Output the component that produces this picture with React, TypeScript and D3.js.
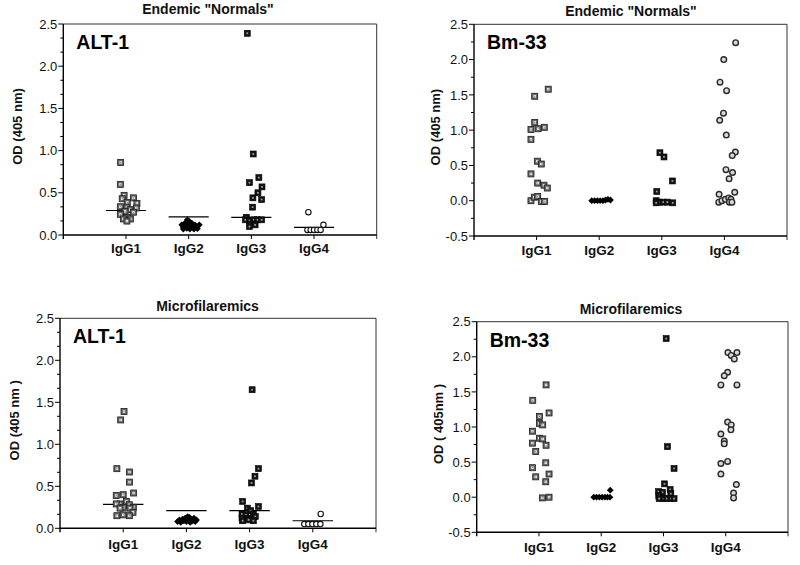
import React from "react";
import * as d3 from "d3";

// ---------- data ----------
const categories = ["IgG1", "IgG2", "IgG3", "IgG4"];

// each point: [OD value, horizontal jitter in category units]
type Pt = [number, number];

// ALT-1, Endemic "Normals"
const altNormIgG1: Pt[] = [
  [0.86, -0.085], [0.6, -0.09], [0.47, -0.03], [0.44, 0.12], [0.43, -0.06], [0.385, 0.02],
  [0.375, 0.175], [0.335, -0.09], [0.33, 0.015], [0.32, 0.165], [0.3, 0.065], [0.28, -0.015],
  [0.27, 0.12], [0.245, -0.09], [0.21, 0.025], [0.19, -0.04], [0.19, 0.07], [0.165, 0.015],
];
const altNormIgG2: Pt[] = [
  [0.12, -0.11], [0.09, -0.085], [0.14, -0.06], [0.18, -0.02], [0.16, 0.01], [0.11, 0.03],
  [0.09, 0.065], [0.12, 0.1], [0.1, 0.13], [0.12, 0.17], [0.08, -0.03], [0.07, 0.02],
  [0.07, 0.085], [0.075, 0.14], [0.07, -0.085], [0.12, -0.005], [0.14, 0.05], [0.1, -0.045],
];
const altNormIgG3: Pt[] = [
  [2.39, -0.065], [0.96, 0.03], [0.68, 0.12], [0.62, -0.03], [0.57, 0.17], [0.5, 0.105],
  [0.44, 0.025], [0.42, 0.165], [0.33, 0.02], [0.21, -0.08], [0.18, -0.095], [0.17, -0.03],
  [0.18, 0.04], [0.18, 0.1], [0.18, 0.165], [0.13, -0.02], [0.12, 0.06], [0.1, -0.03],
];
const altNormIgG4: Pt[] = [
  [0.27, -0.09], [0.12, 0.15], [0.06, -0.105], [0.06, -0.053], [0.06, 0], [0.06, 0.053], [0.06, 0.105],
];
const altNormMedians = [0.29, 0.215, 0.21, 0.09];

// Bm-33, Endemic "Normals"
const bmNormIgG1: Pt[] = [
  [1.58, 0.186], [1.48, -0.03], [1.11, -0.03], [1.01, -0.09], [1.02, 0.024], [1.04, 0.123],
  [0.87, -0.09], [0.56, 0.012], [0.52, 0.075], [0.38, -0.09], [0.25, 0.017], [0.22, 0.118],
  [0.18, 0.171], [0.0, -0.09], [0.05, -0.037], [0.06, 0.017], [-0.01, 0.075], [-0.01, 0.129],
];
const bmNormIgG2: Pt[] = [
  [0.0, -0.12], [0.0, -0.075], [0.0, -0.03], [0.0, 0.015], [0.0, 0.06], [0.01, 0.1], [0.02, 0.14], [0.01, 0.18],
];
const bmNormIgG3: Pt[] = [
  [0.68, -0.03], [0.62, 0.035], [0.28, 0.17], [0.13, -0.08], [0.0, -0.09], [-0.02, -0.04],
  [-0.02, 0.025], [-0.02, 0.09], [-0.03, 0.175], [-0.03, -0.09],
];
const bmNormIgG4: Pt[] = [
  [2.24, 0.18], [2.0, -0.01], [1.68, -0.07], [1.56, 0.035], [1.24, -0.015], [1.14, -0.075],
  [0.93, 0.03], [0.69, 0.175], [0.64, 0.125], [0.44, 0.025], [0.4, 0.13], [0.31, 0.075],
  [0.09, -0.085], [0.12, 0.165], [-0.02, -0.09], [0.0, -0.04], [0.02, 0.015], [0.04, 0.07],
  [0.02, 0.105], [-0.02, 0.08], [-0.02, 0.12],
];

// ALT-1, Microfilaremics
const altMfIgG1: Pt[] = [
  [1.39, 0.013], [1.29, -0.04], [0.71, -0.1], [0.67, 0.1], [0.55, 0.1], [0.42, 0.165],
  [0.4, 0.0], [0.39, -0.11], [0.32, 0.05], [0.29, -0.05], [0.29, -0.11], [0.28, 0.097],
  [0.25, 0.0], [0.25, 0.16], [0.24, -0.05], [0.24, 0.107], [0.19, 0.155], [0.15, -0.1],
  [0.16, 0.0], [0.15, 0.097],
];
const altMfIgG2: Pt[] = [
  [0.08, -0.14], [0.1, -0.11], [0.07, -0.09], [0.11, -0.06], [0.09, -0.04], [0.12, -0.02],
  [0.08, 0.0], [0.14, 0.02], [0.1, 0.04], [0.13, 0.05], [0.07, 0.06], [0.11, 0.08],
  [0.09, 0.1], [0.12, 0.12], [0.08, 0.14], [0.1, 0.16],
];
const altMfIgG3: Pt[] = [
  [1.65, 0.04], [0.71, 0.14], [0.62, 0.085], [0.54, 0.03], [0.32, -0.11], [0.26, 0.14],
  [0.24, -0.035], [0.21, 0.017], [0.17, -0.12], [0.16, -0.057], [0.17, 0.06], [0.12, -0.12],
  [0.12, -0.035], [0.14, 0.09], [0.09, -0.11], [0.1, -0.015], [0.09, 0.06],
];
const altMfIgG4: Pt[] = [
  [0.17, 0.125], [0.05, -0.135], [0.05, -0.07], [0.05, -0.007], [0.05, 0.056], [0.05, 0.12],
];
const altMfMedians = [0.285, 0.21, 0.21, 0.09];

// Bm-33, Microfilaremics
const bmMfIgG1: Pt[] = [
  [1.6, 0.114], [1.38, -0.1], [1.2, 0.162], [1.15, 0.007], [1.05, 0.007], [1.03, 0.06],
  [0.94, -0.105], [0.84, 0.007], [0.83, 0.06], [0.77, -0.105], [0.74, 0.114], [0.65, -0.052],
  [0.49, 0.109], [0.42, -0.105], [0.33, 0.162], [0.29, -0.052], [0.22, 0.109], [-0.01, 0.055],
  [0.0, 0.162],
];
const bmMfIgG2: Pt[] = [
  [0.0, -0.12], [0.0, -0.075], [0.0, -0.03], [0.0, 0.015], [0.0, 0.06], [0.0, 0.1], [0.0, 0.14], [0.1, 0.145],
];
const bmMfIgG3: Pt[] = [
  [2.26, 0.043], [0.72, 0.064], [0.41, 0.17], [0.19, 0.016], [0.08, -0.08], [0.11, 0.107],
  [0.05, 0.118], [0.07, -0.016], [0.02, -0.075], [-0.02, 0.0], [-0.02, 0.054], [-0.02, 0.118],
  [-0.02, 0.17], [-0.02, -0.07],
];
const bmMfIgG4: Pt[] = [
  [2.06, 0.035], [2.06, 0.18], [2.02, 0.088], [1.97, 0.137], [1.78, 0.03], [1.73, -0.024],
  [1.6, -0.078], [1.6, 0.18], [1.07, 0.03], [1.03, 0.088], [0.96, 0.083], [0.9, -0.078],
  [0.8, -0.024], [0.76, -0.024], [0.48, -0.078], [0.51, 0.03], [0.33, -0.078], [0.18, 0.17],
  [0.06, 0.126], [-0.01, 0.126],
];

const altTicks = [0, 0.5, 1.0, 1.5, 2.0, 2.5];
const bmTicks = [-0.5, 0, 0.5, 1.0, 1.5, 2.0, 2.5];

// ---------- drawing ----------
const FONT = "'Liberation Sans', Arial, Helvetica, sans-serif";

type MarkerKind = "sqGray" | "sqBlack" | "diamond" | "circleOpen" | "circleGray";

function Marker({ kind, x, y }: { kind: MarkerKind; x: number; y: number }) {
  if (kind === "sqGray") {
    return (
      <g>
        <rect x={x - 3} y={y - 3} width={6} height={6} fill="#676767" stroke="#1e1e1e" strokeWidth={0.8} />
        <rect x={x - 1.2} y={y - 1.2} width={2.4} height={2.4} fill="#f2f2f2" />
        <rect x={x - 0.4} y={y - 0.4} width={0.8} height={0.8} fill="#444" />
      </g>
    );
  }
  if (kind === "sqBlack") {
    return (
      <g>
        <rect x={x - 3} y={y - 3} width={6} height={6} fill="#131313" stroke="#000" strokeWidth={0.6} />
        <rect x={x - 0.9} y={y - 0.9} width={1.8} height={1.8} fill="#9a9a9a" />
      </g>
    );
  }
  if (kind === "diamond") {
    const r = 3.4;
    return <path d={`M${x},${y - r}L${x + r},${y}L${x},${y + r}L${x - r},${y}Z`} fill="#000" />;
  }
  if (kind === "circleOpen") {
    return <circle cx={x} cy={y} r={2.7} fill="#fff" stroke="#111" strokeWidth={1.1} />;
  }
  return <circle cx={x} cy={y} r={2.8} fill="#d8d8d8" stroke="#2a2a2a" strokeWidth={1.4} />;
}

interface PanelProps {
  left: number;
  top: number;
  right: number;
  bottom: number;
  yMin: number;
  ticks: number[];
  minorPerMajor: number;
  title: string;
  titleX: number;
  titleY: number;
  antigen: string;
  yLabel: string;
  yLabelX: number;
  series: Pt[][];
  kinds: MarkerKind[];
  medians?: number[];
  xLabelY: number;
}

function Panel(p: PanelProps) {
  const x = d3.scaleLinear().domain([0, 5]).range([p.left, p.right]);
  const y = d3.scaleLinear().domain([p.yMin, 2.5]).range([p.bottom, p.top]);
  const step = 0.5 / (p.minorPerMajor + 1);
  const minor = d3.range(p.yMin, 2.5 + 1e-9, step).filter(
    (v) => !p.ticks.some((t) => Math.abs(t - v) < 1e-6)
  );
  const yLabelY = (p.top + p.bottom) / 2 - 3;
  return (
    <g fontFamily={FONT}>
      {/* frame */}
      <line x1={p.left} x2={p.right} y1={p.top} y2={p.top} stroke="#333" strokeWidth={1} />
      <line x1={p.right} x2={p.right} y1={p.top} y2={p.bottom + 4} stroke="#333" strokeWidth={1} />
      <line x1={p.left} x2={p.left} y1={p.top} y2={p.bottom + 4} stroke="#000" strokeWidth={1.4} />
      <line x1={p.left} x2={p.right} y1={p.bottom} y2={p.bottom} stroke="#000" strokeWidth={1.4} />
      {/* y ticks */}
      {p.ticks.map((t) => (
        <g key={"t" + t}>
          <line x1={p.left - 5} x2={p.left} y1={y(t)} y2={y(t)} stroke="#000" strokeWidth={1} />
          <text x={p.left - 6} y={y(t)} dy="0.36em" textAnchor="end" fontSize={13} fill="#111">
            {t.toFixed(1)}
          </text>
        </g>
      ))}
      {minor.map((t, i) => (
        <line key={"m" + i} x1={p.left - 3} x2={p.left} y1={y(t)} y2={y(t)} stroke="#000" strokeWidth={1} />
      ))}
      {/* x ticks */}
      {[1, 2, 3, 4].map((c) => (
        <line key={"xt" + c} x1={x(c)} x2={x(c)} y1={p.bottom} y2={p.bottom + 4} stroke="#000" strokeWidth={1} />
      ))}
      {categories.map((c, i) => (
        <text key={c} x={x(i + 1)} y={p.xLabelY} textAnchor="middle" fontSize={13.5} fontWeight="bold" fill="#111">
          {c}
        </text>
      ))}
      {/* title & labels */}
      <text x={p.titleX} y={p.titleY} textAnchor="middle" fontSize={14} fontWeight="bold" fill="#111">
        {p.title}
      </text>
      <text x={p.left + 13} y={p.top + 25} fontSize={19.5} fontWeight="bold" fill="#000">
        {p.antigen}
      </text>
      <text
        transform={`translate(${p.yLabelX},${yLabelY}) rotate(-90)`}
        textAnchor="middle"
        fontSize={13}
        fontWeight="bold"
        fill="#111"
      >
        {p.yLabel}
      </text>
      {/* medians */}
      {p.medians &&
        p.medians.map((m, i) => (
          <line
            key={"med" + i}
            x1={x(i + 1 - 0.32)}
            x2={x(i + 1 + 0.32)}
            y1={y(m)}
            y2={y(m)}
            stroke="#000"
            strokeWidth={1.2}
          />
        ))}
      {/* points */}
      {p.series.map((s, i) =>
        s.map((d, j) => <Marker key={i + "-" + j} kind={p.kinds[i]} x={x(i + 1 + d[1])} y={y(d[0])} />)
      )}
    </g>
  );
}

export default function App() {
  return (
    <svg
      width={800}
      height={565}
      style={{ position: "absolute", left: 0, top: 0, background: "#fff" }}
    >
      <rect width={800} height={565} fill="#fff" />
      <Panel
        left={63.3}
        top={24}
        right={376.7}
        bottom={235}
        yMin={0}
        ticks={altTicks}
        minorPerMajor={2}
        title={'Endemic "Normals"'}
        titleX={208}
        titleY={14}
        antigen="ALT-1"
        yLabel="OD (405 nm)"
        yLabelX={22}
        series={[altNormIgG1, altNormIgG2, altNormIgG3, altNormIgG4]}
        kinds={["sqGray", "diamond", "sqBlack", "circleOpen"]}
        medians={altNormMedians}
        xLabelY={253}
      />
      <Panel
        left={474}
        top={24.3}
        right={787}
        bottom={236}
        yMin={-0.5}
        ticks={bmTicks}
        minorPerMajor={1}
        title={'Endemic "Normals"'}
        titleX={631}
        titleY={15.5}
        antigen="Bm-33"
        yLabel="OD (405 nm)"
        yLabelX={440}
        series={[bmNormIgG1, bmNormIgG2, bmNormIgG3, bmNormIgG4]}
        kinds={["sqGray", "diamond", "sqBlack", "circleGray"]}
        xLabelY={255}
      />
      <Panel
        left={60}
        top={318.3}
        right={376}
        bottom={528.3}
        yMin={0}
        ticks={altTicks}
        minorPerMajor={2}
        title="Microfilaremics"
        titleX={207.5}
        titleY={311}
        antigen="ALT-1"
        yLabel="OD (405 nm )"
        yLabelX={19}
        series={[altMfIgG1, altMfIgG2, altMfIgG3, altMfIgG4]}
        kinds={["sqGray", "diamond", "sqBlack", "circleOpen"]}
        medians={altMfMedians}
        xLabelY={549}
      />
      <Panel
        left={476.7}
        top={321.7}
        right={788}
        bottom={532.3}
        yMin={-0.5}
        ticks={bmTicks}
        minorPerMajor={1}
        title="Microfilaremics"
        titleX={631}
        titleY={314}
        antigen="Bm-33"
        yLabel="OD ( 405nm )"
        yLabelX={443}
        series={[bmMfIgG1, bmMfIgG2, bmMfIgG3, bmMfIgG4]}
        kinds={["sqGray", "diamond", "sqBlack", "circleGray"]}
        xLabelY={552}
      />
    </svg>
  );
}
